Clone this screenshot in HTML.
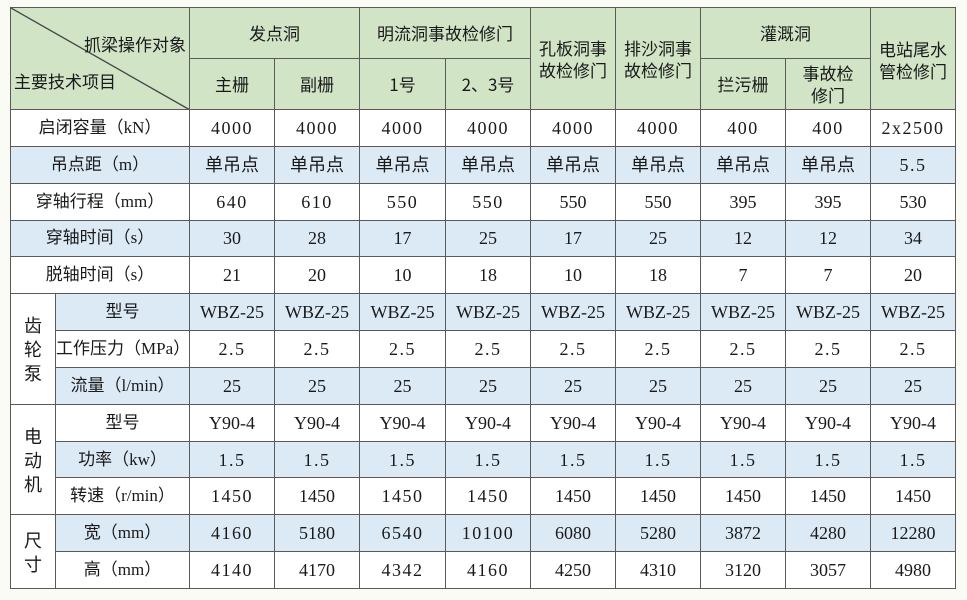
<!DOCTYPE html>
<html><head><meta charset="utf-8"><style>
html,body{margin:0;padding:0;background:#fbfbf6;}
body{width:967px;height:600px;position:relative;overflow:hidden;}
table{position:absolute;left:10px;top:7px;border-collapse:collapse;table-layout:fixed;width:945px;
font-family:"Liberation Serif","Noto Sans CJK SC",serif;font-size:18px;color:#1a1a1a;}
td{border:1.5px solid #5a5a5a;text-align:center;vertical-align:middle;padding:0;line-height:22px;overflow:hidden;white-space:nowrap;}
.h td{background:#d1e4c6;font-family:"Noto Sans CJK SC",sans-serif;font-size:17px;}
tr.b td{background:#dceaf6;}
tr.w td{background:#fff;}
td.g{background:#fff !important;font-family:"Noto Sans CJK SC",sans-serif;line-height:24px;}
td.l{font-family:"Liberation Serif","Noto Sans CJK SC",serif;font-size:17px;}
.n{letter-spacing:1.5px;}
tr.r{height:36.85px;}
</style></head><body>
<table>
<colgroup><col style="width:45px"><col style="width:134px"><col style="width:85px"><col style="width:85px"><col style="width:86px"><col style="width:85px"><col style="width:85px"><col style="width:85px"><col style="width:85px"><col style="width:85px"><col style="width:85px"></colgroup>
<tr class="h" style="height:51px">
<td colspan="2" rowspan="2" style="position:relative;padding:0;">
<svg width="179" height="102" style="position:absolute;left:0;top:0"><line x1="0" y1="0" x2="179" y2="102" stroke="#444" stroke-width="1.3"/></svg>
<div style="position:absolute;right:3px;top:25px;">抓梁操作对象</div>
<div style="position:absolute;left:3px;top:62px;">主要技术项目</div>
</td>
<td colspan="2">发点洞</td><td colspan="2">明流洞事故检修门</td>
<td rowspan="2">孔板洞事<br>故检修门</td><td rowspan="2">排沙洞事<br>故检修门</td>
<td colspan="2">灌溉洞</td><td rowspan="2" style="vertical-align:top;padding-top:30px">电站尾水<br>管检修门</td>
</tr>
<tr class="h" style="height:51px">
<td>主栅</td><td>副栅</td><td>1号</td><td>2、3号</td><td>拦污栅</td><td>事故检<br>修门</td>
</tr>
<tr class="r w"><td colspan="2" class="l">启闭容量（kN）</td><td class="n">4000</td><td class="n">4000</td><td class="n">4000</td><td class="n">4000</td><td class="n">4000</td><td class="n">4000</td><td class="n">400</td><td class="n">400</td><td class="n">2x2500</td></tr>
<tr class="r b"><td colspan="2" class="l">吊点距（m）</td><td>单吊点</td><td>单吊点</td><td>单吊点</td><td>单吊点</td><td>单吊点</td><td>单吊点</td><td>单吊点</td><td>单吊点</td><td class="n">5.5</td></tr>
<tr class="r w"><td colspan="2" class="l">穿轴行程（mm）</td><td class="n">640</td><td class="n">610</td><td class="n">550</td><td class="n">550</td><td>550</td><td>550</td><td>395</td><td>395</td><td>530</td></tr>
<tr class="r b"><td colspan="2" class="l">穿轴时间（s）</td><td>30</td><td>28</td><td>17</td><td>25</td><td>17</td><td>25</td><td>12</td><td>12</td><td>34</td></tr>
<tr class="r w"><td colspan="2" class="l">脱轴时间（s）</td><td>21</td><td>20</td><td>10</td><td>18</td><td>10</td><td>18</td><td>7</td><td>7</td><td>20</td></tr>
<tr class="r b"><td rowspan="3" class="g">齿<br>轮<br>泵</td><td class="l">型号</td><td>WBZ-25</td><td>WBZ-25</td><td>WBZ-25</td><td>WBZ-25</td><td>WBZ-25</td><td>WBZ-25</td><td>WBZ-25</td><td>WBZ-25</td><td>WBZ-25</td></tr>
<tr class="r w"><td class="l">工作压力（MPa）</td><td class="n">2.5</td><td class="n">2.5</td><td class="n">2.5</td><td class="n">2.5</td><td class="n">2.5</td><td class="n">2.5</td><td class="n">2.5</td><td class="n">2.5</td><td class="n">2.5</td></tr>
<tr class="r b"><td class="l">流量（l/min）</td><td>25</td><td>25</td><td>25</td><td>25</td><td>25</td><td>25</td><td>25</td><td>25</td><td>25</td></tr>
<tr class="r w"><td rowspan="3" class="g">电<br>动<br>机</td><td class="l">型号</td><td>Y90-4</td><td>Y90-4</td><td>Y90-4</td><td>Y90-4</td><td>Y90-4</td><td>Y90-4</td><td>Y90-4</td><td>Y90-4</td><td>Y90-4</td></tr>
<tr class="r b"><td class="l">功率（kw）</td><td class="n">1.5</td><td class="n">1.5</td><td class="n">1.5</td><td class="n">1.5</td><td class="n">1.5</td><td class="n">1.5</td><td class="n">1.5</td><td class="n">1.5</td><td class="n">1.5</td></tr>
<tr class="r w"><td class="l">转速（r/min）</td><td class="n">1450</td><td>1450</td><td class="n">1450</td><td class="n">1450</td><td>1450</td><td>1450</td><td>1450</td><td>1450</td><td>1450</td></tr>
<tr class="r b"><td rowspan="2" class="g">尺<br>寸</td><td class="l">宽（mm）</td><td class="n">4160</td><td>5180</td><td class="n">6540</td><td class="n">10100</td><td>6080</td><td>5280</td><td>3872</td><td>4280</td><td>12280</td></tr>
<tr class="r w"><td class="l">高（mm）</td><td class="n">4140</td><td>4170</td><td class="n">4342</td><td class="n">4160</td><td>4250</td><td>4310</td><td>3120</td><td>3057</td><td>4980</td></tr>
</table>
</body></html>
